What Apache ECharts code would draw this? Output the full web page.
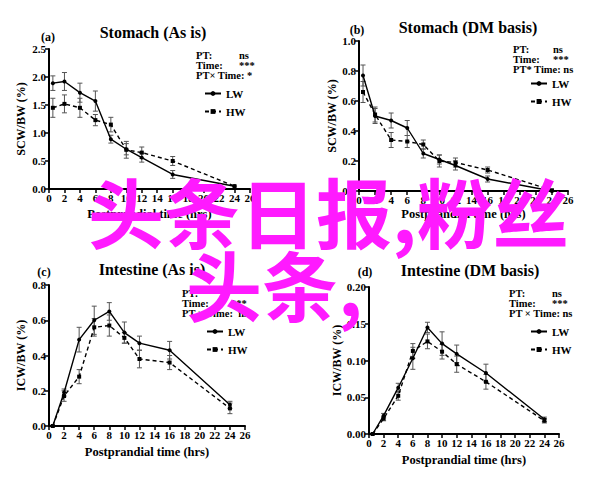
<!DOCTYPE html>
<html><head><meta charset="utf-8">
<script src="https://cdn.jsdelivr.net/npm/echarts@6/dist/echarts.min.js"></script>
<style>html,body{margin:0;padding:0;background:#fff}#c{width:600px;height:483px}</style>
</head><body><div id="c"></div>
<script>
// Sampling times (hrs)
const times = [0.5, 2, 4, 6, 8, 10, 12, 16, 24];
const xTicks = [0,2,4,6,8,10,12,14,16,18,20,22,24,26];

// (a) Stomach (As is)
const aLW = [1.89, 1.92, 1.72, 1.57, 0.89, 0.71, 0.56, 0.26, 0.05];
const aLWerr = [0.13, 0.16, 0.17, 0.18, 0.07, 0.10, 0.08, 0.07, 0];
const aHW = [1.45, 1.52, 1.45, 1.23, 1.15, 0.70, 0.65, 0.50, 0.05];
const aHWerr = [0.17, 0.16, 0.17, 0.10, 0.13, 0.15, 0.10, 0.08, 0];

// (b) Stomach (DM basis)
const bLW = [0.77, 0.50, 0.47, 0.42, 0.25, 0.21, 0.17, 0.08, 0.0];
const bLWerr = [0.07, 0.05, 0.05, 0.05, 0.03, 0.03, 0.03, 0.02, 0];
const bHW = [0.66, 0.51, 0.34, 0.33, 0.31, 0.20, 0.19, 0.14, 0.005];
const bHWerr = [0.07, 0.05, 0.05, 0.04, 0.03, 0.04, 0.03, 0.02, 0];

// (c) Intestine (As is)
const cLW = [0, 0.19, 0.49, 0.60, 0.65, 0.53, 0.47, 0.43, 0.12];
const cLWerr = [0, 0.02, 0.07, 0.08, 0.05, 0.06, 0.04, 0.05, 0.02];
const cHW = [0, 0.17, 0.28, 0.56, 0.57, 0.50, 0.38, 0.36, 0.10];
const cHWerr = [0, 0.03, 0.04, 0.05, 0.06, 0.03, 0.05, 0.04, 0.03];

// (d) Intestine (DM basis)
const dLW = [0, 0.025, 0.063, 0.103, 0.145, 0.123, 0.109, 0.083, 0.020];
const dLWerr = [0, 0.003, 0.006, 0.015, 0.007, 0.016, 0.012, 0.012, 0.003];
const dHW = [0, 0.021, 0.052, 0.113, 0.126, 0.112, 0.095, 0.071, 0.018];
const dHWerr = [0, 0.003, 0.006, 0.010, 0.010, 0.010, 0.011, 0.010, 0.003];

const panelTitles = ['Stomach (As is)', 'Stomach (DM basis)', 'Intestine (As is)', 'Intestine (DM basis)'];
const panelLetters = ['(a)', '(b)', '(c)', '(d)'];
const yNames = ['SCW/BW (%)', 'SCW/BW (%)', 'ICW/BW (%)', 'ICW/BW (%)'];
const xName = 'Postprandial time (hrs)';
const yMax = [2.5, 1.0, 0.8, 0.20];
const yStep = [0.5, 0.2, 0.2, 0.05];
const yDec = [1, 1, 1, 2];
const stats = [
  [['PT:', 'ns'], ['Time:', '***'], ['PT\u00d7 Time: *', '']],
  [['PT:', 'ns'], ['Time:', '***'], ['PT* Time: ns', '']],
  [['PT:', ''], ['Time:', '***'], ['PT \u00d7 Time:  ns', '']],
  [['PT:', 'ns'], ['Time:', '***'], ['PT \u00d7 Time: ns', '']]
];
const watermark = ['头条日报,粉丝', '头条,'];

const LW = [aLW, bLW, cLW, dLW], LWe = [aLWerr, bLWerr, cLWerr, dLWerr];
const HW = [aHW, bHW, cHW, dHW], HWe = [aHWerr, bHWerr, cHWerr, dHWerr];

// layout
const grids = [
  {left: 49, top: 49, width: 201, height: 140},
  {left: 359, top: 41, width: 209, height: 150},
  {left: 49, top: 285, width: 196, height: 141},
  {left: 369, top: 287, width: 190, height: 147}
];
const titlePos = [[148, 20], [463, 15], [147, 257], [465, 258]];
const letterPos = [[48, 37], [357, 30], [44, 272], [365, 272]];
const statPos = [[196, 239, 55], [513, 553, 49], [182, 231, 293], [509, 552, 293]];
const legendPos = [[204, 89], [530, 79], [206, 327], [530, 327]];
const xNameGap = [18, 16, 19, 19];
const yNameGap = [22, 18, 22, 26];

const serif = '"Liberation Serif", "DejaVu Serif", serif';

const xAxes = [], yAxes = [], series = [], titles = [], legends = [], graphics = [];

function errSeries(name, gi, vals, errs, color) {
  return {
    type: 'custom', name: name, xAxisIndex: gi, yAxisIndex: gi, z: 1, silent: true,
    data: times.map((t, i) => [t, vals[i], errs[i]]),
    encode: {x: 0, y: 1},
    renderItem: function (params, api) {
      const e = api.value(2);
      if (!e) return null;
      const x = api.value(0), y = api.value(1);
      const p1 = api.coord([x, y - e]), p2 = api.coord([x, y + e]);
      const w = 2.5;
      const st = {stroke: color, lineWidth: 1};
      return {type: 'group', children: [
        {type: 'line', shape: {x1: p1[0], y1: p1[1], x2: p2[0], y2: p2[1]}, style: st},
        {type: 'line', shape: {x1: p1[0] - w, y1: p1[1], x2: p1[0] + w, y2: p1[1]}, style: st},
        {type: 'line', shape: {x1: p2[0] - w, y1: p2[1], x2: p2[0] + w, y2: p2[1]}, style: st}
      ]};
    }
  };
}

for (let g = 0; g < 4; g++) {
  xAxes.push({
    type: 'value', gridIndex: g, min: 0, max: 26, interval: 2,
    name: xName, nameLocation: 'middle', nameGap: xNameGap[g],
    nameTextStyle: {fontFamily: serif, fontWeight: 'bold', fontSize: 12.5, color: '#000'},
    axisLine: {show: true, onZero: false, lineStyle: {color: '#000', width: 2}},
    axisTick: {show: true, length: 4, lineStyle: {color: '#000', width: 1.5}},
    axisLabel: {fontFamily: serif, fontWeight: 'bold', fontSize: 11, color: '#000', margin: 3},
    splitLine: {show: false}
  });
  yAxes.push({
    type: 'value', gridIndex: g, min: 0, max: yMax[g], interval: yStep[g],
    name: yNames[g], nameLocation: 'middle', nameGap: yNameGap[g], nameRotate: 90,
    nameTextStyle: {fontFamily: serif, fontWeight: 'bold', fontSize: 12, color: '#000'},
    axisLine: {show: true, lineStyle: {color: '#000', width: 2}},
    axisTick: {show: true, length: 4, lineStyle: {color: '#000', width: 1.5}},
    axisLabel: {fontFamily: serif, fontWeight: 'bold', fontSize: 11, color: '#000', margin: 3,
      formatter: v => v.toFixed(yDec[g])},
    splitLine: {show: false}
  });
  series.push(errSeries('LWerr' + g, g, LW[g], LWe[g], '#555'));
  series.push(errSeries('HWerr' + g, g, HW[g], HWe[g], '#555'));
  series.push({
    type: 'line', name: 'LW', xAxisIndex: g, yAxisIndex: g, z: 3,
    data: times.map((t, i) => [t, LW[g][i]]),
    symbol: 'circle', symbolSize: 4, showSymbol: true,
    lineStyle: {color: '#000', width: 1.4, type: 'solid'},
    itemStyle: {color: '#000'}, emphasis: {disabled: true}
  });
  series.push({
    type: 'line', name: 'HW', xAxisIndex: g, yAxisIndex: g, z: 3,
    data: times.map((t, i) => [t, HW[g][i]]),
    symbol: 'rect', symbolSize: 4, showSymbol: true,
    lineStyle: {color: '#000', width: 1.4, type: [4, 3]},
    itemStyle: {color: '#000'}, emphasis: {disabled: true}
  });
  titles.push({
    text: panelTitles[g], left: titlePos[g][0], top: titlePos[g][1] - 1, textAlign: 'center',
    textStyle: {fontFamily: serif, fontWeight: 'bold', fontSize: 16, color: '#000'}
  });
  legends.push({
    data: ['LW', 'HW'], orient: 'vertical', left: legendPos[g][0], top: legendPos[g][1] - 1,
    itemWidth: 16, itemHeight: 6, itemGap: 7, padding: 0, selectedMode: false,
    textStyle: {fontFamily: serif, fontWeight: 'bold', fontSize: 11, color: '#000'}
  });
  graphics.push({type: 'text', x: letterPos[g][0], y: letterPos[g][1],
    style: {text: panelLetters[g], font: 'bold 12px ' + serif, fill: '#000', align: 'center', verticalAlign: 'middle'}});
  stats[g].forEach((row, r) => {
    const y = statPos[g][2] + r * 10;
    graphics.push({type: 'text', x: statPos[g][0], y: y,
      style: {text: row[0], font: 'bold 10.5px ' + serif, fill: '#000', verticalAlign: 'middle'}});
    if (row[1]) graphics.push({type: 'text', x: statPos[g][1], y: y,
      style: {text: row[1], font: 'bold 10.5px ' + serif, fill: '#000', verticalAlign: 'middle'}});
  });
}

// overlay text
graphics.push({type: 'text', x: 88, y: 210, z: 100,
  style: {text: watermark[0], font: 'bold 76px "Noto Sans CJK SC"', fill: '#ff1aff', verticalAlign: 'middle'}});
graphics.push({type: 'text', x: 186, y: 283, z: 100,
  style: {text: watermark[1], font: 'bold 76px "Noto Sans CJK SC"', fill: '#ff1aff', verticalAlign: 'middle'}});

const chart = echarts.init(document.getElementById('c'), null, {renderer: 'svg'});
chart.setOption({
  animation: false,
  backgroundColor: '#fff',
  title: titles,
  legend: legends,
  grid: grids,
  xAxis: xAxes,
  yAxis: yAxes,
  series: series,
  graphic: graphics
});
</script></body></html>
